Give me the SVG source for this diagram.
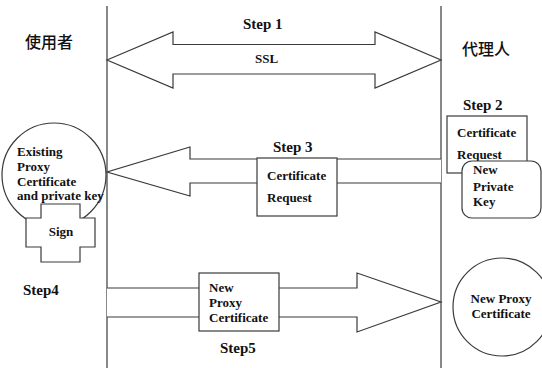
<svg xmlns="http://www.w3.org/2000/svg" width="542" height="368" viewBox="0 0 542 368">
  <style>
    .ln { fill: none; stroke: #3a3a3a; stroke-width: 1.2; }
    .shape { fill: #ffffff; stroke: #3a3a3a; stroke-width: 1.2; }
    text { font-family: 'Liberation Serif', 'DejaVu Serif', serif; font-weight: bold; fill: #111; }
    .t { font-size: 13px; }
    .step { font-size: 15px; }
    .cjk { font-family: 'Noto Sans CJK SC', 'Noto Sans CJK TC', sans-serif; font-weight: 500; font-size: 16px; }
  </style>
  <rect width="542" height="368" fill="#ffffff"/>

  <!-- lifelines and message arrows -->
  <g id="connectors">
    <line class="ln" x1="107" y1="6" x2="107" y2="368"/>
    <line class="ln" x1="441" y1="6" x2="441" y2="368"/>
    <!-- Step 1: two-way SSL arrow -->
    <path class="shape" d="M107,60 L173,32 L173,44.5 L375,44.5 L375,32 L441,60 L375,88 L375,74 L173,74 L173,88 Z"/>
    <!-- Step 3: request back to the user -->
    <path class="shape" d="M441,159 L190,159 L190,147 L107,172 L190,196 L190,183 L441,183"/>
    <!-- Step 5: certificate to the proxy -->
    <path class="shape" d="M107,288 L357,288 L357,273 L441,302 L357,332 L357,317 L107,317"/>
  </g>

  <g id="labels">
    <text class="cjk" x="25" y="48">使用者</text>
    <text class="cjk" x="462" y="55">代理人</text>
    <text class="step" x="243" y="29">Step 1</text>
    <text class="t" x="255" y="63">SSL</text>
    <text class="step" x="463" y="110">Step 2</text>
    <text class="step" x="273" y="152">Step 3</text>
    <text class="step" x="23" y="295">Step4</text>
    <text class="step" x="220" y="353">Step5</text>
  </g>

  <g id="existing-cert">
    <circle class="shape" cx="54" cy="175" r="52"/>
    <text class="t" x="17" y="156">Existing</text>
    <text class="t" x="17" y="171">Proxy</text>
    <text class="t" x="17" y="186">Certificate</text>
    <text class="t" x="17" y="200">and private key</text>
  </g>

  <g id="sign">
    <path class="shape" d="M41,204 L80,204 L80,218 L95,218 L95,247 L80,247 L80,262 L41,262 L41,247 L26,247 L26,218 L41,218 Z"/>
    <text class="t" x="61" y="236" text-anchor="middle">Sign</text>
  </g>

  <g id="request-proxy">
    <rect class="shape" x="447" y="116" width="80" height="57"/>
    <text class="t" x="457" y="137">Certificate</text>
    <text class="t" x="457" y="159">Request</text>
  </g>

  <g id="new-private-key">
    <rect class="shape" x="462" y="161" width="79" height="57" rx="10" ry="10"/>
    <text class="t" x="473" y="174">New</text>
    <text class="t" x="473" y="191">Private</text>
    <text class="t" x="473" y="206">Key</text>
  </g>

  <g id="request-msg">
    <rect class="shape" x="257" y="158" width="80" height="58"/>
    <text class="t" x="267" y="180">Certificate</text>
    <text class="t" x="267" y="202">Request</text>
  </g>

  <g id="new-cert-msg">
    <rect class="shape" x="199" y="273" width="80" height="58"/>
    <text class="t" x="209" y="292">New</text>
    <text class="t" x="209" y="307">Proxy</text>
    <text class="t" x="209" y="322">Certificate</text>
  </g>

  <g id="new-cert">
    <circle class="shape" cx="502" cy="307" r="49"/>
    <text class="t" x="501" y="303" text-anchor="middle">New Proxy</text>
    <text class="t" x="501" y="318" text-anchor="middle">Certificate</text>
  </g>
</svg>
